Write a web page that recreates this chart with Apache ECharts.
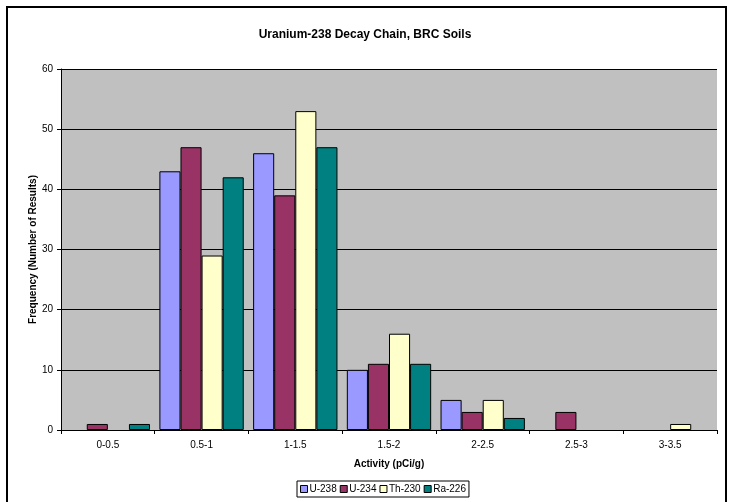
<!DOCTYPE html>
<html><head><meta charset="utf-8">
<script src="https://cdn.jsdelivr.net/npm/echarts@6/dist/echarts.min.js"></script>
<style>html,body{margin:0;padding:0;background:#fff}#frame{position:absolute;left:6px;top:6px;width:721px;height:500px;border:2px solid #000;box-sizing:border-box}#c{position:absolute;left:0;top:0;width:730px;height:502px}</style>
</head><body><div id="frame"></div><div id="c"></div>
<script>
const categories = ['0-0.5','0.5-1','1-1.5','1.5-2','2-2.5','2.5-3','3-3.5'];
const u238 = [0,43,46,10,5,0,0];
const u234 = [1,47,39,11,3,3,0];
const th230 = [0,29,53,16,5,0,1];
const ra226 = [1,42,47,11,2,0,0];
const yTicks = [0,10,20,30,40,50,60];
const names = ['U-238','U-234','Th-230','Ra-226'];
const colors = ['#9999FF','#993366','#FFFFCC','#008080'];
const F = 'Arial, "Liberation Sans", sans-serif';
const chart = echarts.init(document.getElementById('c'), null, {renderer:'canvas'});
const mk = (name, data, color) => ({
  name, type:'bar', data: data.map(v => v === 0 ? '-' : v), barGap:'0%', barCategoryGap:'10%',
  itemStyle:{color, borderColor:'#000', borderWidth:1}
});
chart.setOption({
  animation:false,
  backgroundColor:'transparent',
  title:{text:'Uranium-238 Decay Chain, BRC Soils', left:'center', top:24,
    textStyle:{fontFamily:F, fontSize:12, fontWeight:'bold', color:'#000'}},
  legend:{bottom:5, left:297, itemWidth:7, itemHeight:7, itemGap:3,
    borderColor:'#000', borderWidth:1, padding:[3,3,3,3],
    textStyle:{fontFamily:F, fontSize:10, color:'#000', padding:[0,0,0,-3]},
    icon:'rect',
    data:names.map((n,i)=>({name:n, itemStyle:{color:colors[i], borderColor:'#000', borderWidth:1}}))},
  grid:{left:61, right:13, top:69, bottom:72, backgroundColor:'#C0C0C0', show:true, borderWidth:0},
  xAxis:{type:'category', data:categories, name:'Activity (pCi/g)', nameLocation:'middle', nameGap:29, nameMoveOverlap:false,
    nameTextStyle:{fontFamily:F, fontSize:10, fontWeight:'bold', color:'#000'},
    axisLine:{lineStyle:{color:'#000', width:1}},
    axisTick:{show:true, alignWithLabel:false, length:4, lineStyle:{color:'#000'}},
    axisLabel:{fontFamily:F, fontSize:10, color:'#000', margin:10}},
  yAxis:{type:'value', min:0, max:60, interval:10, name:'Frequency (Number of Results)', nameLocation:'middle', nameGap:23, nameMoveOverlap:false,
    nameTextStyle:{fontFamily:F, fontSize:10, fontWeight:'bold', color:'#000'},
    axisLine:{show:true, lineStyle:{color:'#000'}},
    axisTick:{show:true, length:4, lineStyle:{color:'#000'}},
    axisLabel:{fontFamily:F, fontSize:10, color:'#000', margin:8,
      formatter:v=>yTicks.includes(v)?String(v):''},
    splitLine:{show:true, lineStyle:{color:'#000', width:1}}},
  series:[mk(names[0],u238,colors[0]), mk(names[1],u234,colors[1]), mk(names[2],th230,colors[2]), mk(names[3],ra226,colors[3])]
});
</script></body></html>
